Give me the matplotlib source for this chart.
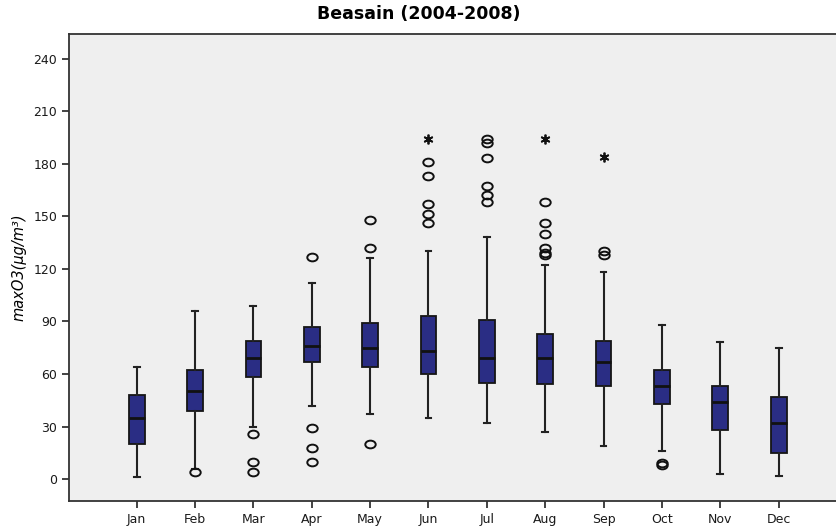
import matplotlib.pyplot as plt
import numpy as np
from matplotlib.path import Path

plt.rcParams['font.family'] = ['DejaVu Sans']

months = ["Jan", "Feb", "Mar", "Apr", "May", "Jun",
          "Jul", "Aug", "Sep", "Oct", "Nov", "Dec"]

whis_low = [1, 6, 30, 42, 37, 35, 32, 27, 19, 16, 3, 2]
q1 = [20, 39, 58, 67, 64, 60, 55, 54, 53, 43, 28, 15]
medians = [35, 50, 69, 76, 75, 73, 69, 69, 67, 53, 44, 32]
q3 = [48, 62, 79, 87, 89, 93, 91, 83, 79, 62, 53, 47]
whis_high = [64, 96, 99, 112, 126, 130, 138, 122, 118, 88, 78, 75]

# open circles
outliers = [
    [],
    [4],
    [26, 10, 4],
    [127, 29, 18, 10],
    [148, 132, 20],
    [181, 173, 157, 151, 146],
    [194, 192, 183, 167, 162, 158],
    [158, 146, 140, 132, 129, 128],
    [130, 128],
    [9, 8],
    [],
    [],
]

# extreme values (stars)
extremes = [[], [], [], [], [], [194], [], [194], [184], [], [], []]

stats = []
for i, m in enumerate(months):
    stats.append({
        "label": m, "whislo": whis_low[i], "q1": q1[i], "med": medians[i],
        "q3": q3[i], "whishi": whis_high[i], "fliers": outliers[i],
    })

# slightly wide ellipse for the outlier circles
circ = Path.unit_circle()
ellipse = Path(circ.vertices * np.array([1.35, 1.0]), circ.codes)

fig = plt.figure(figsize=(8.37, 5.27), dpi=100)
ax = fig.add_axes([0.0824, 0.0493, 0.9176, 0.8862])
ax.set_facecolor("#EFEFEF")

pos = np.arange(1, len(months) + 1)
ax.bxp(stats, positions=pos, widths=0.27, patch_artist=True,
       boxprops=dict(facecolor="#2A2D84", edgecolor="#151515", linewidth=1.3),
       medianprops=dict(color="#111111", linewidth=2),
       whiskerprops=dict(color="#222222", linewidth=1.5),
       capprops=dict(color="#222222", linewidth=1.5),
       capwidths=0.1,
       flierprops=dict(marker=ellipse, markerfacecolor="none", markeredgecolor="#111111",
                       markersize=7.5, markeredgewidth=1.4, linestyle="none"))

for p, ex in zip(pos, extremes):
    if ex:
        ax.plot([p] * len(ex), ex, linestyle="none", marker=(6, 2, 0), color="#111111",
                markersize=7, markeredgewidth=1.3)

ax.set_xlim(-0.16, 13.0)
ax.set_ylim(-12.5, 254)
ax.set_yticks(np.arange(0, 241, 30))
ax.set_xticks(pos)
ax.set_xticklabels(months)
ax.tick_params(axis="both", labelsize=9, length=5, width=1.2, color="#222222",
               labelcolor="#1a1a1a")
for side in ["left", "bottom", "top"]:
    ax.spines[side].set_linewidth(1.3)
    ax.spines[side].set_color("#333333")
ax.spines["right"].set_visible(False)

ax.set_ylabel("maxO3(μg/m³)", fontsize=10.5, style="italic", labelpad=5)
fig.text(0.5, 0.973, "Beasain (2004-2008)", ha="center", va="center",
         fontsize=12.5, fontweight="bold")

fig.savefig("out.png", dpi=100)
